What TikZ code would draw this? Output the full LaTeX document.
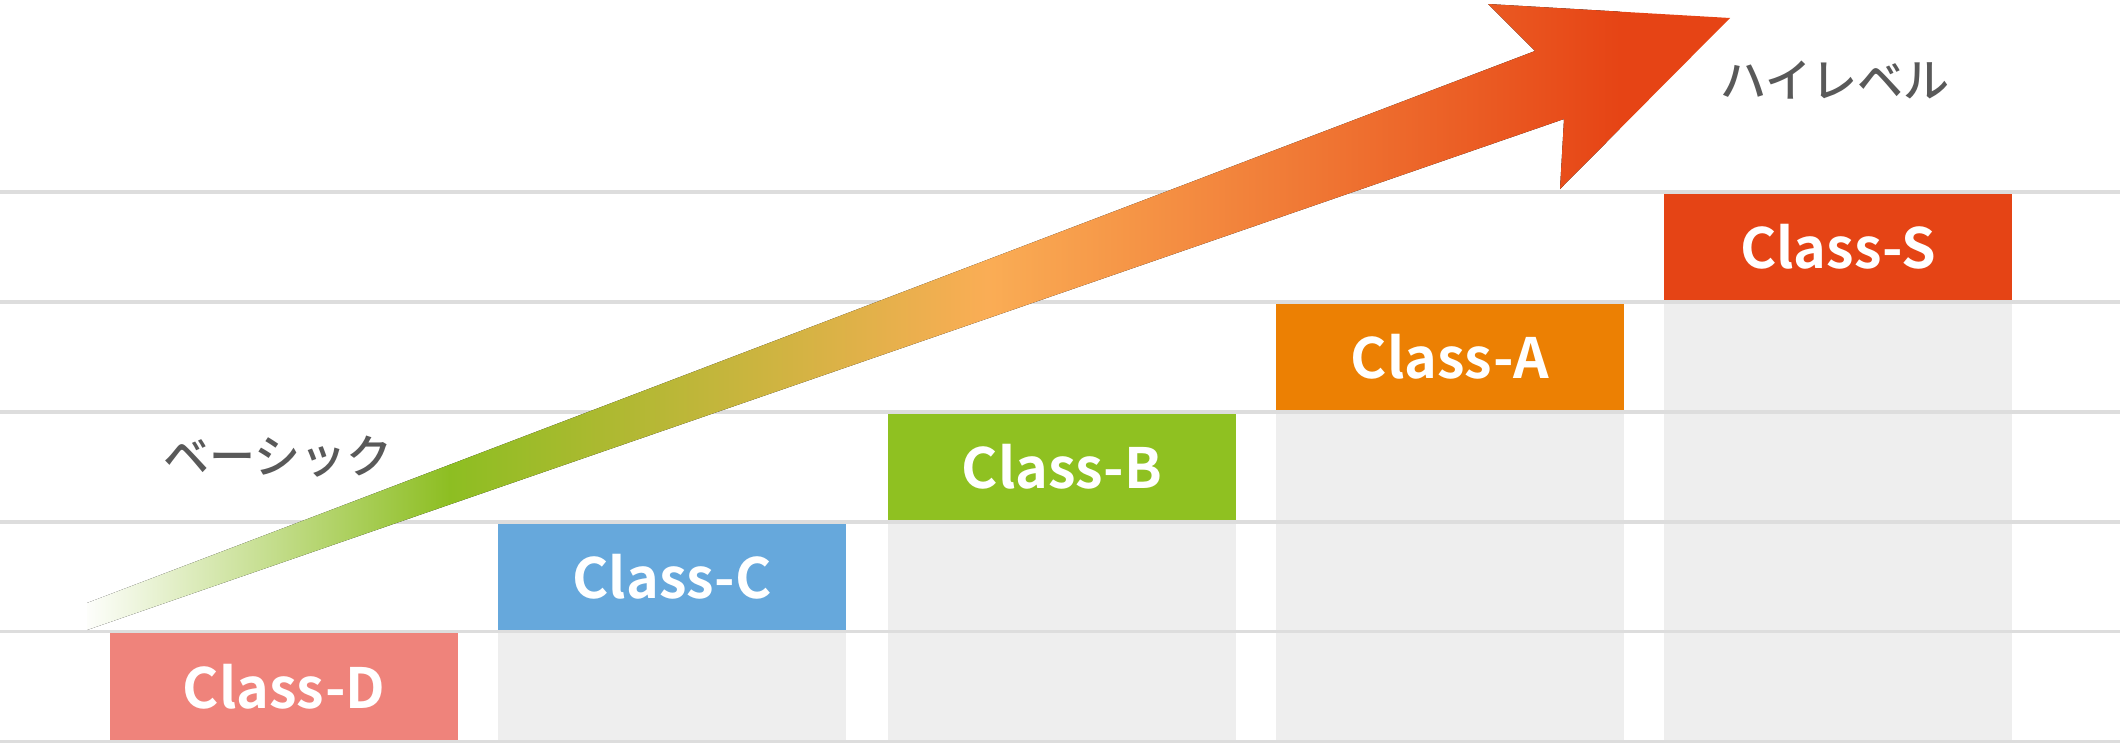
\documentclass[tikz,border=0pt]{standalone}
\usepackage{fontspec}
\newfontfamily\jp{Noto Sans CJK JP}[UprightFont=* Medium]
\newfontfamily\jpb{Noto Sans CJK JP}[UprightFont=* Bold]
\definecolor{colD}{HTML}{EF837B}
\definecolor{colC}{HTML}{66A8DC}
\definecolor{colB}{HTML}{8FC121}
\definecolor{colA}{HTML}{EC8003}
\definecolor{colS}{HTML}{E54415}
\definecolor{colCol}{HTML}{EEEEEE}
\definecolor{colLine}{HTML}{DDDDDD}
\definecolor{colTxt}{HTML}{595959}
\definecolor{arGreen}{HTML}{8DBE22}
\definecolor{arOrange}{HTML}{FAAD55}
\definecolor{arRed}{HTML}{E64415}
\tikzset{
  classbox/.style={rectangle, inner sep=0pt, minimum width=348pt, minimum height=109.5pt,
    text=white, font=\jpb\fontsize{55.5}{55.5}\selectfont},
  levellabel/.style={inner sep=0pt, text=colTxt, font=\jp\fontsize{46}{46}\selectfont},
  gridline/.style={draw=colLine, line width=3.5pt},
  column/.style={fill=colCol}
}
\begin{document}
\begin{tikzpicture}[x=1pt,y=-1pt]
\useasboundingbox (0,0) rectangle (2120,744);
\fill[white] (0,0) rectangle (2120,744);
% grey columns
\fill[column] (498,522) rectangle (846,741.5);
\fill[column] (888,412) rectangle (1236,741.5);
\fill[column] (1276,302) rectangle (1624,741.5);
\fill[column] (1664,192) rectangle (2012,741.5);
% class boxes
\node[classbox, fill=colD] (d) at (284,686.5) {Class-D};
\node[classbox, fill=colC] (c) at (672,576.75) {Class-C};
\node[classbox, fill=colB] (b) at (1062,467) {Class-B};
\node[classbox, fill=colA] (a) at (1450,357) {Class-A};
\node[classbox, fill=colS] (s) at (1838,247) {Class-S};
% grid lines
\foreach \yy in {192,302,412,522,631.5,741.5}
  \draw[gridline] (0,\yy) -- (2120,\yy);
% arrow
\begin{scope}
\clip (87,603) -- (1535,51) -- (1488,4) -- (1730,18) -- (1560,189) -- (1564,119) -- (87,630) -- cycle;
\fill[left color=white, right color=arGreen] (80,0) rectangle (450,744);
\fill[left color=arGreen, right color=arOrange] (449.5,0) rectangle (987,744);
\fill[left color=arOrange, right color=arRed] (986.5,0) rectangle (1620,744);
\fill[arRed] (1619.5,0) rectangle (1740,744);
\end{scope}
% labels
\node[levellabel] (basic) at (278,457) {ベーシック};
\node[levellabel] (high) at (1835,80) {ハイレベル};
\end{tikzpicture}
\end{document}
